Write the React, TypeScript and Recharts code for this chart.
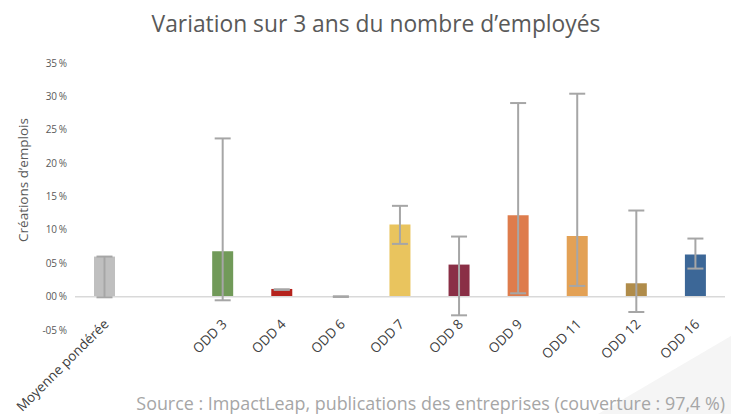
import React from 'react';
import { BarChart, Bar, XAxis, YAxis, ErrorBar, Cell, ReferenceLine } from 'recharts';

const categories = ['Moyenne pondérée', '', 'ODD 3', 'ODD 4', 'ODD 6', 'ODD 7', 'ODD 8', 'ODD 9', 'ODD 11', 'ODD 12', 'ODD 16'];
const values = [6.0, null, 6.8, 1.15, 0.02, 10.8, 4.8, 12.2, 9.1, 2.0, 6.3];
const lows = [-0.1, null, -0.55, 1.0, -0.05, 7.9, -2.8, 0.5, 1.6, -2.3, 4.2];
const highs = [6.0, null, 23.7, 1.1, 0.05, 13.6, 9.0, 29.0, 30.4, 12.9, 8.7];
const colors = ['#bfbfbf', '#ffffff', '#719a59', '#b5231d', '#cccccc', '#e9c45e', '#8a2f46', '#de7c4c', '#e3a155', '#b08c4a', '#3c6797'];
const yTicks = [-5, 0, 5, 10, 15, 20, 25, 30, 35];

const data = categories.map((name, i) => {
  const v = values[i];
  const lo = lows[i];
  const hi = highs[i];
  return {
    name,
    value: v,
    err: v == null || lo == null || hi == null ? undefined : [v - lo, hi - v],
  };
});

const FONT = '"Open Sans", sans-serif';

const fmt = (v: number) => {
  const a = Math.abs(v);
  return (v < 0 ? '-' : '') + (a < 10 ? '0' : '') + a + '\u2009%';
};

const XTick = (props: any) => {
  const { x, y, payload } = props;
  if (!payload || !payload.value) return <g />;
  const ax = x + 5;
  const ay = y - 13;
  return (
    <text
      x={ax}
      y={ay}
      textAnchor="end"
      transform={`rotate(-45, ${ax}, ${ay})`}
      fill="#404040"
      fontSize={13.5}
      fontFamily={FONT}
    >
      {payload.value}
    </text>
  );
};

export default function App() {
  return (
    <div style={{ position: 'absolute', left: 0, top: 0, width: 731, height: 414, background: '#ffffff', overflow: 'hidden' }}>
      <svg width={731} height={414} style={{ position: 'absolute', left: 0, top: 0 }}>
        <polygon points="598,414 731,336 731,414" fill="#f5f5f5" />
      </svg>
      <div style={{ position: 'absolute', left: 0, top: 0 }}>
        <BarChart width={731} height={414} data={data} margin={{ top: 63, right: 6, left: 0, bottom: 0 }}>
          <XAxis
            dataKey="name"
            interval={0}
            tick={<XTick />}
            tickLine={false}
            axisLine={false}
            height={84}
          />
          <YAxis
            width={75}
            domain={[-5, 35]}
            ticks={yTicks}
            tickFormatter={fmt}
            tickLine={false}
            axisLine={false}
            tick={{ fill: '#595959', fontSize: 10, fontFamily: FONT }}
          />
          <ReferenceLine y={0} stroke="#d9d9d9" strokeWidth={1.5} />
          <Bar dataKey="value" barSize={21} isAnimationActive={false}>
            {data.map((d, i) => (
              <Cell key={i} fill={colors[i]} />
            ))}
            <ErrorBar dataKey="err" stroke="#a6a6a6" strokeWidth={2} width={8} isAnimationActive={false} />
          </Bar>
        </BarChart>
      </div>
      <svg width={731} height={414} style={{ position: 'absolute', left: 0, top: 0, pointerEvents: 'none' }}>
        <text x={376} y={32} textAnchor="middle" fill="#595959" fontSize={22.8} fontFamily={FONT}>
          Variation sur 3 ans du nombre d’employés
        </text>
        <text
          x={28}
          y={180}
          textAnchor="middle"
          transform="rotate(-90, 28, 180)"
          fill="#595959"
          fontSize={13.5}
          fontFamily={FONT}
        >
          Créations d’emplois
        </text>
        <text x={725} y={410} textAnchor="end" fill="#a6a6a6" fontSize={17.9} fontFamily={FONT}>
          Source : ImpactLeap, publications des entreprises (couverture : 97,4 %)
        </text>
      </svg>
    </div>
  );
}
